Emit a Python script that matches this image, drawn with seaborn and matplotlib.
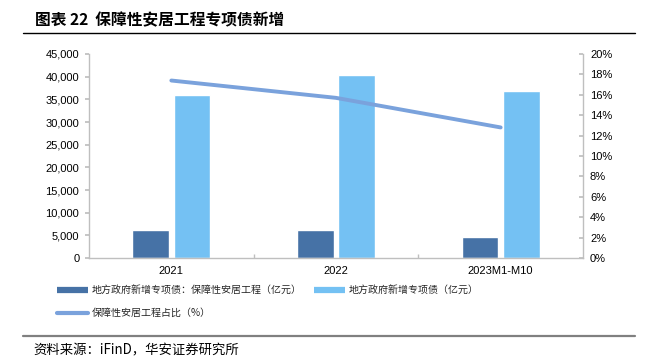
import matplotlib
matplotlib.use('Agg')
import matplotlib.pyplot as plt
from matplotlib.lines import Line2D
from matplotlib.ticker import FuncFormatter, MultipleLocator, FixedLocator
import seaborn as sns
import pandas as pd

# data
periods = ['2021', '2022', '2023M1-M10']
housing_bonds = [6200, 6250, 4600]        # 地方政府新增专项债：保障性安居工程（亿元）
total_bonds = [35900, 40400, 36800]       # 地方政府新增专项债（亿元）
housing_share = [17.4, 15.7, 12.8]        # 保障性安居工程占比（%）

name_housing = '地方政府新增专项债：保障性安居工程（亿元）'
name_total = '地方政府新增专项债（亿元）'
name_share = '保障性安居工程占比（%）'

c_dark = '#4672A6'
c_light = '#74C1F3'
c_line = '#7AA2DC'
c_spine = '#BFBFBF'

sns.set_theme(style='white')
cjk = ['Noto Sans CJK SC', 'DejaVu Sans']
num_font = ['Liberation Sans', 'DejaVu Sans']
plt.rcParams['font.family'] = num_font

df = pd.DataFrame({
    'period': periods * 2,
    'value': housing_bonds + total_bonds,
    'series': [name_housing] * 3 + [name_total] * 3,
})

fig = plt.figure(figsize=(6.45, 3.63), dpi=100)
ax = fig.add_axes([89 / 645, 1 - 258 / 363, 494 / 645, 204 / 363])

sns.barplot(data=df, x='period', y='value', hue='series', order=periods,
            hue_order=[name_housing, name_total],
            palette=[c_dark, c_light], width=0.505, gap=0.12,
            saturation=1, legend=False, ax=ax)

ax2 = ax.twinx()
sns.pointplot(x=periods, y=housing_share, ax=ax2, color=c_line,
              markers='', linestyles='-', linewidth=2.8)

ax.set_xlim(-0.5, 2.5)
ax.set_ylim(0, 45000)
ax.yaxis.set_major_locator(MultipleLocator(5000))
ax.yaxis.set_major_formatter(FuncFormatter(lambda v, p: f'{v:,.0f}'))
ax2.set_ylim(0, 20)
ax2.yaxis.set_major_locator(MultipleLocator(2))
ax2.yaxis.set_major_formatter(FuncFormatter(lambda v, p: f'{v:.0f}%'))

ax.set_xlabel('')
ax.set_ylabel('')
ax2.set_xlabel('')
ax2.set_ylabel('')

for a in (ax, ax2):
    a.spines['top'].set_visible(False)
    for side in ('left', 'right', 'bottom'):
        a.spines[side].set_color(c_spine)
        a.spines[side].set_linewidth(1.0)

ax.spines['right'].set_visible(False)
ax2.spines['left'].set_visible(False)
ax2.spines['bottom'].set_visible(False)

ax.tick_params(axis='y', which='major', direction='out', length=3, color=c_spine,
               labelsize=8, pad=4, left=True)
ax2.tick_params(axis='y', which='major', direction='in', length=3, color=c_spine,
                labelsize=8, pad=5, right=True)
ax.tick_params(axis='x', which='major', length=0, labelsize=8, pad=6)
ax.xaxis.set_minor_locator(FixedLocator([0.5, 1.5]))
ax.tick_params(axis='x', which='minor', direction='in', length=3, color=c_spine,
               bottom=True)
ax2.tick_params(axis='x', which='both', length=0)

for lab in ax.get_xticklabels() + ax.get_yticklabels() + ax2.get_yticklabels():
    lab.set_color('#000000')

# legend
handles = [
    Line2D([], [], color=c_dark, lw=4.5, solid_capstyle='butt'),
    Line2D([], [], color=c_line, lw=3, solid_capstyle='round'),
    Line2D([], [], color=c_light, lw=4.5, solid_capstyle='butt'),
]
labels = [name_housing, name_share, name_total]
fig.legend(handles, labels, loc='upper left', bbox_to_anchor=(57 / 645, 1 - 285 / 363),
           ncol=2, frameon=False, prop={'family': cjk, 'size': 7.2},
           handlelength=3.1, handletextpad=0.4, columnspacing=1.15,
           labelspacing=1.3, borderpad=0, borderaxespad=0)

# title and source
fig.text(35 / 645, 1 - 20 / 363, '图表 22  保障性安居工程专项债新增', family=cjk,
         fontsize=11.3, fontweight='bold', va='center', ha='left', color='#000000')
fig.add_artist(Line2D([23 / 645, 635 / 645], [1 - 33 / 363, 1 - 33 / 363],
                      color='#000000', lw=1.0))
fig.add_artist(Line2D([23 / 645, 635 / 645], [1 - 336 / 363, 1 - 336 / 363],
                      color='#808080', lw=1.6))
fig.text(33 / 645, 1 - 350 / 363, '资料来源：iFinD，华安证券研究所', family=cjk,
         fontsize=9.6, va='center', ha='left', color='#000000')

fig.savefig('out.png', dpi=100)
plt.close(fig)
